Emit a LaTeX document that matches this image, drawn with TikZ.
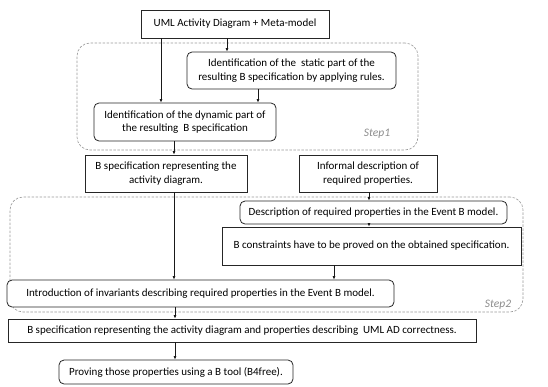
\documentclass[tikz,border=0pt]{standalone}
\usepackage{fontspec}
\setmainfont{Carlito}
\usetikzlibrary{arrows.meta}
\begin{document}
\begin{tikzpicture}[x=1pt,y=-1pt,
  font=\fontsize{11}{13.4}\selectfont,
  sbox/.style={draw=black!85, line width=0.8pt, inner sep=0pt, align=center, fill=white},
  rbox/.style={sbox, rounded corners=5pt},
  grp/.style={draw=black!40, dashed, dash pattern=on 2.5pt off 1.5pt, line width=0.6pt, rounded corners=13pt, inner sep=0pt},
  lbl/.style={text=black!45, font=\fontsize{11.5}{13}\selectfont\itshape},
  arr/.style={draw=black!90, line width=0.7pt, -{Latex[length=3.5pt,width=3pt]}}]
\useasboundingbox (0,0) rectangle (548,386);
% groups
\node[grp, minimum width=341pt, minimum height=107pt] (g1) at (247.5,96.5) {};
\node[grp, minimum width=513pt, minimum height=115pt] (g2) at (266.5,254.5) {};
\node[lbl] (l1) at (377,134) {Step1};
\node[lbl] (l2) at (498,305) {Step2};
% boxes
\node[sbox, minimum width=188pt, minimum height=28pt] (top) at (235,24) {UML Activity Diagram + Meta-model};
\node[rbox, minimum width=209pt, minimum height=37pt] (static) at (291.5,70.5) {Identification of the\ \ static part of the\\resulting B specification by applying rules.};
\node[rbox, minimum width=182pt, minimum height=38pt] (dyn) at (185,122) {Identification of the dynamic part of\\the resulting\ \ B specification};
\node[sbox, minimum width=162pt, minimum height=37pt] (bspec) at (166,173.5) {B specification representing the\\activity diagram.};
\node[sbox, minimum width=138pt, minimum height=37pt] (inf) at (368,173.5) {Informal description of\\required properties.};
\node[rbox, minimum width=267pt, minimum height=23pt] (desc) at (373.5,212.5) {Description of required properties in the Event B model.};
\node[sbox, minimum width=299pt, minimum height=38pt] (cons) at (371.5,246) {B constraints have to be proved on the obtained specification.};
\node[rbox, minimum width=387pt, minimum height=27pt] (intro) at (200.5,293.5) {Introduction of invariants describing required properties in the Event B model.};
\node[sbox, minimum width=468pt, minimum height=23pt] (final) at (242,330.5) {B specification representing the activity diagram and properties describing\ \ UML AD correctness.};
\node[rbox, minimum width=234pt, minimum height=24pt] (prove) at (176,372) {Proving those properties using a B tool (B4free).};
% connectors
\draw[arr] ([xshift=-8pt]top.south) -- ([xshift=-64.5pt]static.north);
\draw[arr] ([xshift=-74pt]top.south) -- ([xshift=-24pt]dyn.north);
\draw[arr] ([xshift=-33.5pt]static.south) -- ([xshift=73pt]dyn.north);
\draw[arr] ([xshift=-11pt]dyn.south) -- ([xshift=8pt]bspec.north);
\draw[arr] ([xshift=8pt]bspec.south) -- ([xshift=-26.5pt]intro.north);
\draw[arr] ([xshift=1pt]inf.south) -- ([xshift=-4.5pt]desc.north);
\draw[arr] ([xshift=-4.5pt]desc.south) -- ([xshift=-2.5pt]cons.north);
\draw[arr] ([xshift=-37.5pt]cons.south) -- ([xshift=133.5pt]intro.north);
\draw[arr] ([xshift=-25.5pt]intro.south) -- ([xshift=-67pt]final.north);
\draw[arr] ([xshift=-67pt]final.south) -- ([xshift=-1pt]prove.north);
\end{tikzpicture}
\end{document}
